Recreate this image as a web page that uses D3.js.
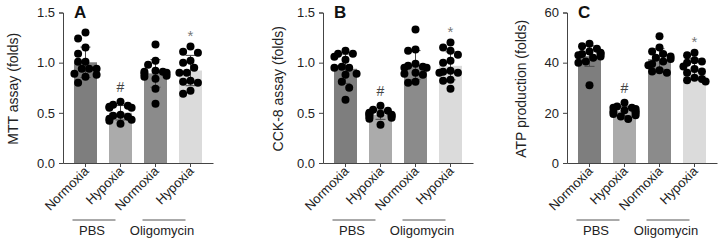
<!DOCTYPE html>
<html>
<head>
<meta charset="utf-8">
<script src="https://cdn.jsdelivr.net/npm/d3@7"></script>
<style>
  body { margin: 0; background: #fff; }
  svg { display: block; font-family: "Liberation Sans", Arial, sans-serif; }
  .axis path, .axis line { stroke: #444; }
  .axis text { fill: #222; font-size: 13px; }
</style>
</head>
<body>
<div id="chart"></div>
<script>
// categories and group labels
var conditions = ["Normoxia", "Hypoxia", "Normoxia", "Hypoxia"];
var groups = ["PBS", "Oligomycin"];
var barColors = ["#7e7e7e", "#ababab", "#8b8b8b", "#dbdbdb"];

// panel A: MTT assay (folds), one array per bar
var mttPbsNorm = [1.30, 1.24, 1.15, 1.09, 1.01, 1.01, 0.94, 0.94, 0.94, 0.89, 0.88, 0.86, 0.80];
var mttPbsHyp = [0.61, 0.58, 0.57, 0.56, 0.55, 0.55, 0.48, 0.47, 0.46, 0.44, 0.43, 0.42, 0.39];
var mttOliNorm = [1.18, 1.02, 0.98, 0.92, 0.91, 0.91, 0.90, 0.89, 0.87, 0.86, 0.84, 0.74, 0.59];
var mttOliHyp = [1.16, 1.11, 1.10, 1.02, 1.00, 0.95, 0.90, 0.90, 0.82, 0.81, 0.80, 0.72, 0.69];

// panel B: CCK-8 assay (folds)
var cckPbsNorm = [1.12, 1.09, 1.09, 1.06, 1.03, 0.96, 0.95, 0.95, 0.89, 0.88, 0.81, 0.75, 0.63];
var cckPbsHyp = [0.57, 0.53, 0.52, 0.50, 0.49, 0.49, 0.48, 0.48, 0.47, 0.46, 0.45, 0.44, 0.38];
var cckOliNorm = [1.33, 1.13, 1.12, 0.99, 0.97, 0.96, 0.95, 0.95, 0.90, 0.89, 0.88, 0.81, 0.80];
var cckOliHyp = [1.20, 1.15, 1.12, 1.08, 1.02, 1.00, 0.92, 0.91, 0.90, 0.90, 0.83, 0.82, 0.74];

// panel C: ATP production (folds)
var atpPbsNorm = [47.5, 46.5, 45.5, 44.5, 44, 43.5, 43.5, 43, 42.5, 42, 40.5, 40, 31];
var atpPbsHyp = [24, 22.5, 22, 22, 21.5, 21, 20.5, 20.5, 20, 19.5, 19, 18.5, 17.5];
var atpOliNorm = [50.5, 46, 44.5, 43.5, 42.5, 42, 41.5, 40.5, 39.5, 39, 37, 36.5, 36];
var atpOliHyp = [44, 43, 41, 40.5, 40, 38.5, 37.5, 36.5, 36, 34, 33.5, 33, 32.5];

// y ticks
var foldTicks = [0, 0.5, 1.0, 1.5];
var atpTicks = [0, 20, 40, 60];

// significance marks per bar ("" = none)
var marks = ["", "#", "", "*"];

var panels = [
    {letter: "A", title: "MTT assay (folds)", series: [mttPbsNorm, mttPbsHyp, mttOliNorm, mttOliHyp],
     ticks: foldTicks, fmt: d3.format(".1f"), axisX: 63, titleOff: 45},
    {letter: "B", title: "CCK-8 assay (folds)", series: [cckPbsNorm, cckPbsHyp, cckOliNorm, cckOliHyp],
     ticks: foldTicks, fmt: d3.format(".1f"), axisX: 323, titleOff: 40},
    {letter: "C", title: "ATP production (folds)", series: [atpPbsNorm, atpPbsHyp, atpOliNorm, atpOliHyp],
     ticks: atpTicks, fmt: d3.format("d"), axisX: 567, titleOff: 41}
];

var width = 722, height = 245;
var plotTop = 12.5, plotBottom = 163, plotWidth = 150;
var dotR = 4;

var svg = d3.select("#chart").append("svg")
    .attr("width", width)
    .attr("height", height);

svg.append("rect").attr("width", width).attr("height", height).attr("fill", "#fff");

// spread dots sideways so they don't overlap (rough beeswarm)
function swarm(values, y, maxOff) {
    var placed = [];
    var offs = [0];
    for (var k = 1; k <= 6; k++) { offs.push(-k * 3.7, k * 3.7); }
    return values.map(function (v, i) {
        var cy = y(v);
        var best = null;
        for (var j = 0; j < offs.length; j++) {
            var ox = offs[j];
            if (Math.abs(ox) > maxOff) continue;
            var ok = placed.every(function (p) {
                var dx = p.x - ox, dy = p.y - cy;
                return dx * dx + dy * dy >= Math.pow(dotR * 2 * 0.9, 2);
            });
            if (ok) { best = ox; break; }
        }
        if (best === null) best = (placed.length % 2 ? -1 : 1) * maxOff;
        placed.push({x: best, y: cy});
        return {x: best, y: cy};
    });
}

panels.forEach(function (p) {
    var g = svg.append("g").attr("class", "panel");
    var x0 = p.axisX;
    var keys = d3.range(conditions.length);

    var x = d3.scaleBand()
        .domain(keys)
        .range([x0, x0 + plotWidth])
        .paddingInner(12 / 35)
        .paddingOuter(0.314);

    var y = d3.scaleLinear()
        .domain([p.ticks[0], p.ticks[p.ticks.length - 1]])
        .range([plotBottom, plotTop]);

    var stats = p.series.map(function (vals) {
        return {mean: d3.mean(vals), sd: d3.deviation(vals), max: d3.max(vals)};
    });

    // bars
    g.selectAll(".bar").data(stats).enter().append("rect")
        .attr("class", "bar")
        .attr("x", function (d, i) { return x(i); })
        .attr("width", x.bandwidth())
        .attr("y", function (d) { return y(d.mean); })
        .attr("height", function (d) { return plotBottom - y(d.mean); })
        .attr("fill", function (d, i) { return barColors[i]; });

    // error bars (mean +/- SD)
    var cap = 5;
    var eb = g.selectAll(".err").data(stats).enter().append("g")
        .attr("class", "err")
        .attr("stroke", "#4a4a4a")
        .attr("stroke-width", 1);
    eb.append("line")
        .attr("x1", function (d, i) { return x(i) + x.bandwidth() / 2; })
        .attr("x2", function (d, i) { return x(i) + x.bandwidth() / 2; })
        .attr("y1", function (d) { return y(d.mean + d.sd); })
        .attr("y2", function (d) { return y(d.mean - d.sd); });
    eb.append("line")
        .attr("x1", function (d, i) { return x(i) + x.bandwidth() / 2 - cap; })
        .attr("x2", function (d, i) { return x(i) + x.bandwidth() / 2 + cap; })
        .attr("y1", function (d) { return y(d.mean + d.sd); })
        .attr("y2", function (d) { return y(d.mean + d.sd); });
    eb.append("line")
        .attr("x1", function (d, i) { return x(i) + x.bandwidth() / 2 - cap; })
        .attr("x2", function (d, i) { return x(i) + x.bandwidth() / 2 + cap; })
        .attr("y1", function (d) { return y(d.mean - d.sd); })
        .attr("y2", function (d) { return y(d.mean - d.sd); });

    // dots
    p.series.forEach(function (vals, i) {
        var cx = x(i) + x.bandwidth() / 2;
        var pos = swarm(vals, y, 11.1);
        g.selectAll(".dot-" + i).data(pos).enter().append("circle")
            .attr("class", "dot-" + i)
            .attr("cx", function (d) { return cx + d.x; })
            .attr("cy", function (d) { return d.y; })
            .attr("r", dotR)
            .attr("fill", "#000");
    });

    // significance marks
    g.selectAll(".mark").data(stats).enter().append("text")
        .attr("class", "mark")
        .attr("x", function (d, i) { return x(i) + x.bandwidth() / 2; })
        .attr("y", function (d, i) { return y(d.max) - 15 + (marks[i] === "*" ? 9 : 5); })
        .attr("text-anchor", "middle")
        .attr("font-size", function (d, i) { return marks[i] === "*" ? 15 : 14; })
        .attr("fill", function (d, i) { return marks[i] === "*" ? "#777" : "#444"; })
        .text(function (d, i) { return marks[i]; });

    // y axis
    g.append("g")
        .attr("class", "axis y-axis")
        .attr("transform", "translate(" + x0 + ",0)")
        .call(d3.axisLeft(y).tickValues(p.ticks).tickFormat(p.fmt).tickSize(4).tickPadding(4));

    // x axis
    var xAxis = g.append("g")
        .attr("class", "axis x-axis")
        .attr("transform", "translate(0," + plotBottom + ")")
        .call(d3.axisBottom(x).tickSize(4).tickSizeOuter(0).tickFormat(function (d) { return conditions[d]; }));
    xAxis.selectAll("text")
        .attr("text-anchor", "end")
        .attr("dy", null)
        .attr("transform", "translate(4,9) rotate(-45)")
        .attr("y", 0)
        .attr("x", 0);

    // group labels under the conditions
    [[0, 1], [2, 3]].forEach(function (pair, gi) {
        var c1 = x(pair[0]) + x.bandwidth() / 2, c2 = x(pair[1]) + x.bandwidth() / 2;
        var lx1 = c1 - 13, lx2 = c2 - 5;
        g.append("line")
            .attr("x1", lx1).attr("x2", lx2)
            .attr("y1", 220).attr("y2", 220)
            .attr("stroke", "#555").attr("stroke-width", 1);
        g.append("text")
            .attr("x", (lx1 + lx2) / 2 - 2)
            .attr("y", 235)
            .attr("text-anchor", "middle")
            .attr("font-size", 13)
            .attr("fill", "#222")
            .text(groups[gi]);
    });

    // y title
    g.append("text")
        .attr("transform", "translate(" + (x0 - p.titleOff) + "," + ((plotTop + plotBottom) / 2 + 1) + ") rotate(-90)")
        .attr("text-anchor", "middle")
        .attr("font-size", 14)
        .attr("fill", "#222")
        .text(p.title);

    // panel letter
    g.append("text")
        .attr("x", x(0))
        .attr("y", 18)
        .attr("font-size", 17)
        .attr("font-weight", "bold")
        .attr("fill", "#111")
        .text(p.letter);
});
</script>
</body>
</html>
